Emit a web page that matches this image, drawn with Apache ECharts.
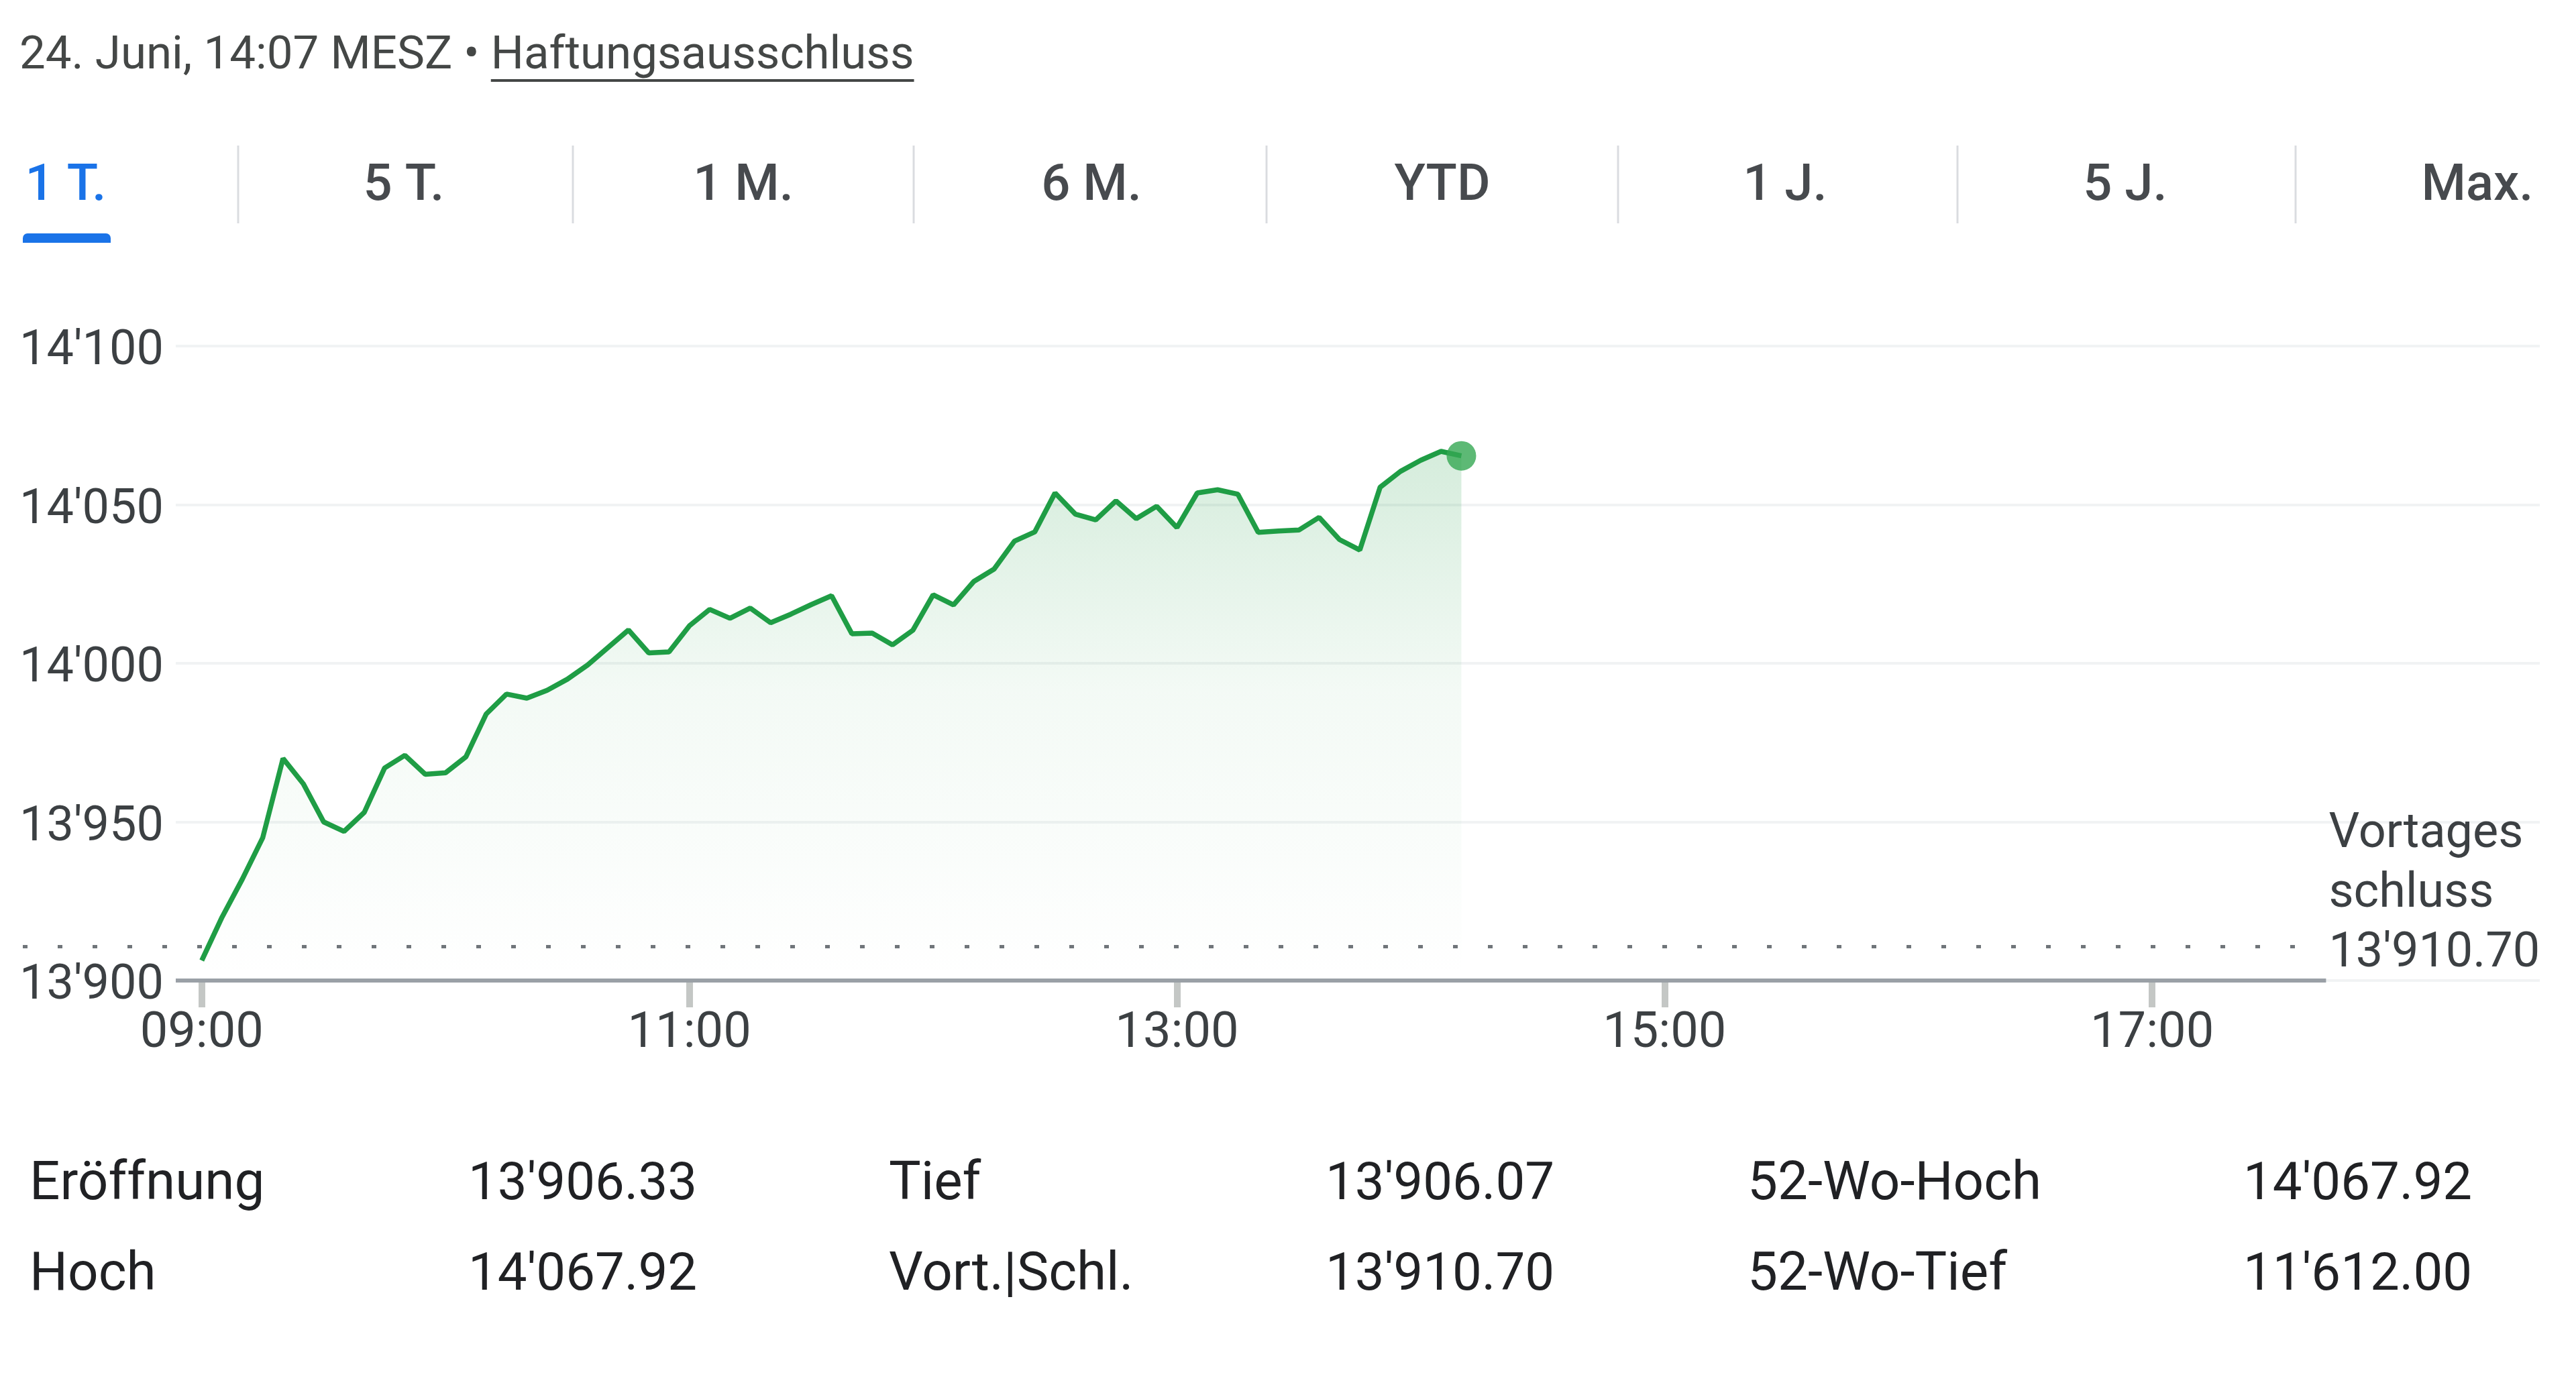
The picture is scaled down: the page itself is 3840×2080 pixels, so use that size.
<!DOCTYPE html>
<html>
<head>
<meta charset="utf-8">
<title>SMI – 1 T.</title>
<script src="https://cdn.jsdelivr.net/npm/echarts@6/dist/echarts.min.js"></script>
<style>
  html, body { margin: 0; padding: 0; background: #fff; }
  #chart { width: 3840px; height: 2080px; }
</style>
</head>
<body>
<div id="chart"></div>
<script>
// Minuten seit 09:00 (5-Minuten-Takt)
const minutes = [
  0, 5, 10, 15, 20, 25, 30, 35, 40, 45, 50, 55,
  60, 65, 70, 75, 80, 85, 90, 95, 100, 105, 110, 115,
  120, 125, 130, 135, 140, 145, 150, 155, 160, 165, 170, 175,
  180, 185, 190, 195, 200, 205, 210, 215, 220, 225, 230, 235,
  240, 245, 250, 255, 260, 265, 270, 275, 280, 285, 290, 295,
  300, 305, 310
]
// Indexstand
const values = [
  13906.3, 13920, 13932, 13945, 13970, 13962, 13950, 13947, 13953, 13967, 13971, 13965,
  13965.5, 13970.5, 13984, 13990.3, 13989, 13991.5, 13995, 13999.5, 14005, 14010.5, 14003.3, 14003.6,
  14011.8, 14017, 14014.2, 14017.4, 14012.8, 14015.5, 14018.5, 14021.3, 14009.3, 14009.5, 14005.8, 14010.4,
  14021.6, 14018.4, 14025.8, 14029.7, 14038.5, 14041.4, 14053.7, 14047, 14045.2, 14051.2, 14045.6, 14049.5,
  14042.8, 14053.7, 14054.7, 14053.3, 14041.3, 14041.7, 14042, 14046, 14039, 14035.7, 14055.5, 14060.5,
  14064, 14066.8, 14065.4
]
const prevClose = 13910.70
const yMin = 13900
const yMax = 14100
const yStep = 50
const xTickMinutes = [0, 120, 240, 360, 480]
const tabs = ['1 T.', '5 T.', '1 M.', '6 M.', 'YTD', '1 J.', '5 J.', 'Max.']
const statLabels = ['Eröffnung', 'Tief', '52-Wo-Hoch', 'Hoch', 'Vort.|Schl.', '52-Wo-Tief']
const statValues = [13906.33, 13906.07, 14067.92, 14067.92, 13910.70, 11612.00]
const headerText = '24. Juni, 14:07 MESZ • '
const linkText = 'Haftungsausschluss'

// Schweizer Zahlenformat 14'067.92
function fmtCH(v, dec) {
  let s = v.toFixed(dec)
  let parts = s.split('.')
  parts[0] = parts[0].replace(/\B(?=(\d{3})+(?!\d))/g, "'")
  return parts.join('.')
}
function fmtTime(m) {
  let h = 9 + Math.floor(m / 60)
  let mm = m % 60
  return (h < 10 ? '0' : '') + h + ':' + (mm < 10 ? '0' : '') + mm
}

const FONT = 'Roboto, "Noto Sans", sans-serif'
const GREEN = '#1f9d45'
const TEXT = '#3c4043'

let chart = echarts.init(document.getElementById('chart'), null, { renderer: 'canvas' })

let lineData = minutes.map(function (m, i) { return [m, values[i]] })
let last = lineData[lineData.length - 1]

let option = {
  animation: false,
  backgroundColor: '#fff',
  grid: { left: 262, right: 54, top: 516, bottom: 618, containLabel: false, outerBoundsMode: 'none' },
  xAxis: {
    type: 'value',
    min: -6.4,
    max: 575.4,
    axisLine: { show: false },
    splitLine: { show: false },
    axisTick: {
      show: true,
      customValues: xTickMinutes,
      length: 40,
      lineStyle: { color: '#c4c7c5', width: 10 }
    },
    axisLabel: {
      customValues: xTickMinutes,
      formatter: function (v) { return fmtTime(v) },
      fontFamily: FONT,
      fontSize: 74,
      color: TEXT,
      verticalAlign: 'middle',
      margin: 80
    }
  },
  yAxis: {
    type: 'value',
    min: yMin,
    max: yMax,
    interval: yStep,
    axisLine: { show: false },
    axisTick: { show: false },
    splitLine: { lineStyle: { color: '#f1f3f4', width: 4 } },
    axisLabel: {
      formatter: function (v) { return '{v|' + fmtCH(v, 0) + '}' },
      rich: {
        v: { fontFamily: FONT, fontSize: 72, color: TEXT, padding: [18, 0, 0, 0] }
      },
      align: 'left',
      verticalAlign: 'middle',
      margin: 233
    }
  },
  series: [
    {
      type: 'line',
      data: lineData,
      symbol: 'none',
      lineStyle: { color: GREEN, width: 7.5 },
      areaStyle: {
        origin: 'start',
        color: new echarts.graphic.LinearGradient(0, 0, 0, 1, [
          { offset: 0, color: 'rgba(40,160,75,0.28)' },
          { offset: 0.15, color: 'rgba(40,160,75,0.21)' },
          { offset: 0.45, color: 'rgba(40,160,75,0.08)' },
          { offset: 1, color: 'rgba(40,160,75,0.0)' }
        ])
      },
      z: 3
    },
    {
      type: 'scatter',
      data: [last],
      symbol: 'circle',
      symbolSize: 44,
      itemStyle: { color: '#34a853' },
      z: 5
    }
  ]
}
chart.setOption(option)

// Textbreite messen (für Unterstreichung)
let ctx = document.createElement('canvas').getContext('2d')
function textW(str, size, weight) {
  ctx.font = (weight || 400) + ' ' + size + 'px ' + FONT
  return ctx.measureText(str).width
}

let g = []

// Kopfzeile
let headSize = 69
let prefixW = textW(headerText, headSize)
let linkW = textW(linkText, headSize)
g.push({ type: 'text', x: 29, y: 85, style: { text: headerText, font: headSize + 'px ' + FONT, fill: '#444746', verticalAlign: 'middle' } })
g.push({ type: 'text', x: 29 + prefixW, y: 85, style: { text: linkText, font: headSize + 'px ' + FONT, fill: '#444746', verticalAlign: 'middle' } })
g.push({ type: 'line', shape: { x1: 29 + prefixW, y1: 120, x2: 29 + prefixW + linkW, y2: 120 }, style: { stroke: '#444746', lineWidth: 4 } })

// Zeitraum-Reiter
const tabX = [98, 602, 1108, 1627, 2150, 2661, 3168, 3693]
const sepX = [355, 854, 1362, 1888, 2412, 2918, 3422]
tabs.forEach(function (t, i) {
  g.push({ type: 'text', x: tabX[i], y: 279, style: {
    text: t, font: '500 76px ' + FONT, fill: i === 0 ? '#1a73e8' : '#474a4e', align: 'center', verticalAlign: 'middle'
  } })
})
sepX.forEach(function (x) {
  g.push({ type: 'line', shape: { x1: x, y1: 217, x2: x, y2: 333 }, style: { stroke: '#dadce0', lineWidth: 3 } })
})
g.push({ type: 'rect', shape: { x: 34, y: 348, width: 131, height: 14, r: [7, 7, 0, 0] }, style: { fill: '#1a73e8' } })

// Achsenlinie und Vortagesschluss über die Skalen der Bibliothek
let pAxis0 = chart.convertToPixel({ gridIndex: 0 }, [-6.4, yMin])
let pAxis1 = chart.convertToPixel({ gridIndex: 0 }, [522.8, yMin])
g.push({ type: 'line', z: 10, shape: { x1: pAxis0[0], y1: pAxis0[1], x2: pAxis1[0], y2: pAxis1[1] }, style: { stroke: '#9aa0a6', lineWidth: 6 } })

let pClose = chart.convertToPixel({ gridIndex: 0 }, [522.8, prevClose])
g.push({ type: 'line', z: 10, shape: { x1: 34, y1: pClose[1], x2: pClose[0] - 6, y2: pClose[1] },
  style: { stroke: '#70757a', lineWidth: 5, lineDash: [7, 45] } })
let closeLines = ['Vortages', 'schluss', fmtCH(prevClose, 2)]
closeLines.forEach(function (s, i) {
  g.push({ type: 'text', x: pClose[0] + 4, y: pClose[1] + 12 - (2 - i) * 89, style: {
    text: s, font: '72px ' + FONT, fill: TEXT, verticalAlign: 'middle'
  } })
})

// Kennzahlen unten
const colX = [44, 698, 1325, 1976, 2605, 3344]
const rowY = [1768, 1903]
statLabels.forEach(function (s, i) {
  let row = Math.floor(i / 3)
  let col = i % 3
  g.push({ type: 'text', x: colX[col * 2], y: rowY[row], style: { text: s, font: '80px ' + FONT, fill: '#202124', verticalAlign: 'middle' } })
  g.push({ type: 'text', x: colX[col * 2 + 1], y: rowY[row], style: { text: fmtCH(statValues[i], 2), font: '78px ' + FONT, fill: '#202124', verticalAlign: 'middle' } })
})

chart.setOption({ graphic: g })
</script>
</body>
</html>
